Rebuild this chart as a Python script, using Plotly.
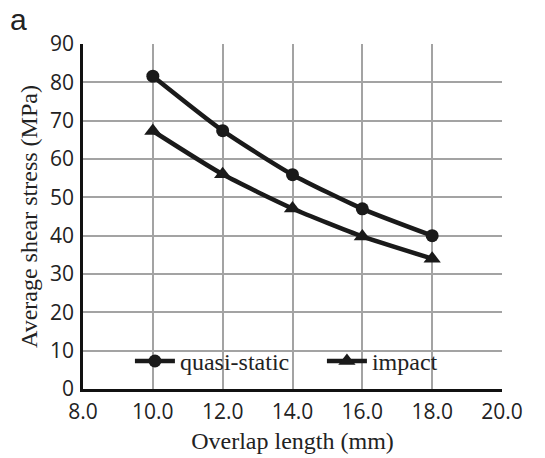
import plotly.graph_objects as go

overlap_mm = [10.0, 12.0, 14.0, 16.0, 18.0]
quasi_static = [81.6, 67.4, 55.9, 47.0, 40.0]
impact = [67.3, 56.0, 47.1, 39.8, 34.0]

ink = "#1a1a1a"
serif = "Liberation Serif, Times New Roman, serif"

fig = go.Figure()
fig.add_trace(go.Scatter(
    x=overlap_mm, y=quasi_static, name="quasi-static", mode="lines+markers",
    line=dict(color=ink, width=4.5, shape="spline", smoothing=0.6),
    marker=dict(symbol="circle", size=13, color=ink),
))
fig.add_trace(go.Scatter(
    x=overlap_mm, y=impact, name="impact", mode="lines+markers",
    line=dict(color=ink, width=4.5, shape="spline", smoothing=0.6),
    marker=dict(symbol="triangle-up", size=15, color=ink),
))

tick_font = dict(family="Open Sans, Liberation Sans, sans-serif", size=21, color="#222")
title_font = dict(family=serif, size=24, color="#222")

fig.update_layout(
    width=545, height=458,
    margin=dict(l=83, r=43, t=44, b=69, autoexpand=False),
    paper_bgcolor="white", plot_bgcolor="white",
    showlegend=True,
    legend=dict(
        orientation="h", x=0.112, xanchor="left", y=0.08, yanchor="middle",
        bgcolor="rgba(0,0,0,0)",
        font=dict(family=serif, size=24, color="#222"),
        itemwidth=40, tracegroupgap=0,
        entrywidth=137, entrywidthmode="pixels",
    ),
    xaxis=dict(
        range=[8, 20], dtick=2, tick0=8, tickformat=".1f",
        showgrid=True, gridcolor="#a3a3a3", gridwidth=1.5,
        showline=True, linecolor="#111", linewidth=2.5,
        mirror=False, zeroline=False, ticks="",
        tickfont=tick_font, ticklabelstandoff=2,
        title=dict(text="Overlap length (mm)", font=title_font, standoff=9),
    ),
    yaxis=dict(
        range=[0, 90], dtick=10,
        showgrid=True, gridcolor="#a3a3a3", gridwidth=1.5,
        showline=True, linecolor="#111", linewidth=2.5,
        zeroline=False, ticks="",
        tickfont=tick_font, ticklabelstandoff=2,
        title=dict(text="Average shear stress (MPa)", font=title_font, standoff=6),
    ),
    annotations=[dict(
        text="a", xref="paper", yref="paper", x=-0.18, y=1.072,
        xanchor="left", yanchor="middle", showarrow=False,
        font=dict(family="Liberation Sans, Arial, sans-serif", size=30, color="#222"),
    )],
)

fig.write_html("out.html")
